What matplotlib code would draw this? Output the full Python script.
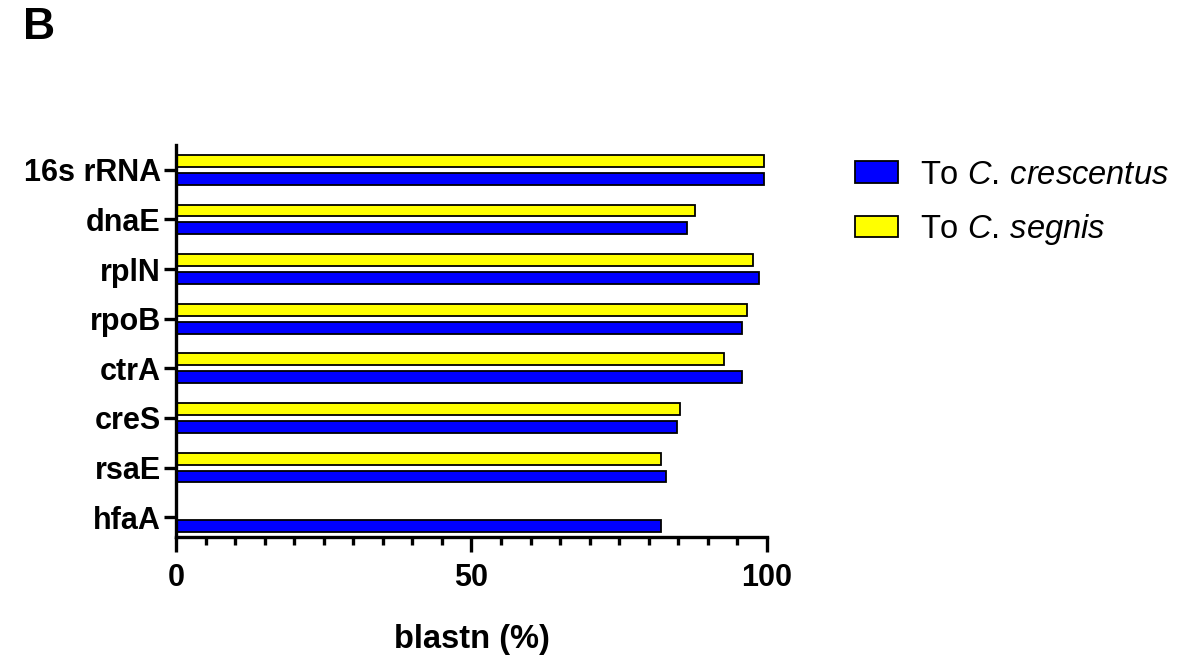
import numpy as np
import matplotlib
matplotlib.use("Agg")
import matplotlib.pyplot as plt
from matplotlib.ticker import MultipleLocator

plt.rcParams['font.family'] = ['Liberation Sans', 'DejaVu Sans']
plt.rcParams['mathtext.fontset'] = 'custom'
plt.rcParams['mathtext.rm'] = 'Liberation Sans'
plt.rcParams['mathtext.it'] = 'Liberation Sans:italic'

genes = ["16s rRNA", "dnaE", "rplN", "rpoB", "ctrA", "creS", "rsaE", "hfaA"]
to_crescentus = [99.5, 86.5, 98.6, 95.7, 95.8, 84.7, 82.9, 82.1]
to_segnis = [99.5, 87.9, 97.6, 96.7, 92.8, 85.3, 82.1, np.nan]

fig = plt.figure(figsize=(11.86, 6.57), dpi=100)
ax = fig.add_axes([0.1484, 0.1826, 0.4983, 0.5967])

y = np.arange(len(genes))
h = 0.24
off = 0.18
ax.barh(y + off, to_crescentus, height=h, color="#0000FF", edgecolor="black",
        linewidth=1.3, label=r"To $\it{C.\,crescentus}$")
ax.barh(y - off, to_segnis, height=h, color="#FFFF00", edgecolor="black",
        linewidth=1.3, label=r"To $\it{C.\,segnis}$")

ax.set_xlim(0, 100)
ax.set_ylim(len(genes) - 1 + 0.4, -0.5)
ax.set_yticks(y)
ax.set_yticklabels(genes, fontsize=22, fontweight="bold")
ax.xaxis.set_major_locator(MultipleLocator(50))
ax.xaxis.set_minor_locator(MultipleLocator(5))
for lab in ax.get_xticklabels():
    lab.set_fontweight("bold")
ax.tick_params(axis="x", which="major", length=11, width=2.4, labelsize=22, pad=8)
ax.tick_params(axis="x", which="minor", length=6, width=2.4)
ax.tick_params(axis="y", which="major", length=9, width=2.4, pad=2)

for s in ["top", "right"]:
    ax.spines[s].set_visible(False)
for s in ["left", "bottom"]:
    ax.spines[s].set_linewidth(2.4)

ax.set_xlabel("blastn (%)", fontsize=23.5, fontweight="bold", labelpad=22)

fig.legend(loc="upper left", bbox_to_anchor=(0.721, 0.757), frameon=False,
           fontsize=23.5, handlelength=1.3, handleheight=0.65, handletextpad=0.7,
           labelspacing=0.65, borderpad=0, borderaxespad=0)

fig.text(0.019, 0.94, "B", fontsize=32, fontweight="bold")

fig.savefig("out.png", dpi=100)
